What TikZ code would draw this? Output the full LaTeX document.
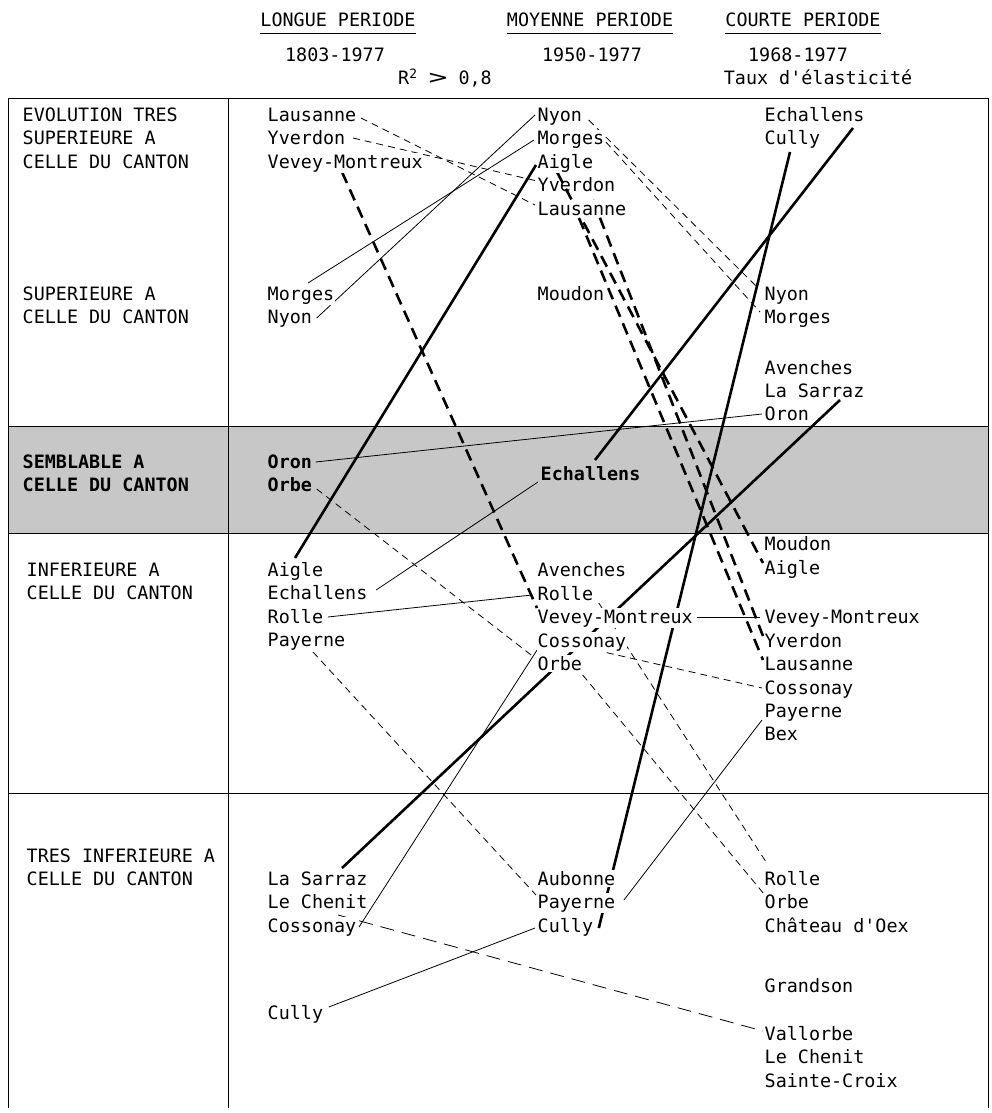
\documentclass[tikz,border=0pt]{standalone}
\usepackage{fontspec}
\usepackage{graphicx}
\setmainfont{DejaVu Sans Mono}
\setmonofont{DejaVu Sans Mono}
\usetikzlibrary{calc}
\pgfdeclarelayer{back}
\pgfdeclarelayer{lines}
\pgfsetlayers{back,lines,main}
\begin{document}
\begin{tikzpicture}[x=1pt,y=-1pt,
  t/.style={font=\ttfamily\fontsize{18.4}{22}\selectfont, inner xsep=0.5pt, inner ysep=1.5pt, fill=white, anchor=base west},
  tg/.style={t, fill=none, font=\ttfamily\fontsize{18.4}{22}\selectfont\bfseries},
  hd/.style={font=\ttfamily\fontsize{18.4}{22}\selectfont, inner sep=0pt, anchor=base},
  thin/.style={line width=0.8pt},
  thick/.style={line width=2.6pt},
  thindash/.style={line width=0.8pt, dash pattern=on 7pt off 5pt},
  thickdash/.style={line width=2.6pt, dash pattern=on 12pt off 7pt},
  longdash/.style={line width=0.8pt, dash pattern=on 14pt off 8pt},
  frame/.style={line width=0.9pt}]
\useasboundingbox (0,0) rectangle (992,1113);
% background band and frame
\begin{pgfonlayer}{back}
\fill[black!22] (8,426) rectangle (988,533);
\draw[frame] (8,1108) -- (8,98) -- (988,98) -- (988,1108);
\draw[frame] (228,98) -- (228,1108);
\draw[frame] (8,426) -- (988,426);
\draw[frame] (8,533) -- (988,533);
\draw[frame] (8,793) -- (988,793);
\end{pgfonlayer}
% headers
\node[hd] (hd1) at (338,27) {LONGUE PERIODE};
\node[hd] (hd2) at (590,27) {MOYENNE PERIODE};
\node[hd] (hd3) at (803,27) {COURTE PERIODE};
\draw[thin] ($(hd1.base west)+(0,6)$) -- ($(hd1.base east)+(0,6)$);
\draw[thin] ($(hd2.base west)+(0,6)$) -- ($(hd2.base east)+(0,6)$);
\draw[thin] ($(hd3.base west)+(0,6)$) -- ($(hd3.base east)+(0,6)$);
\node[hd] (yr1) at (335,62) {1803-1977};
\node[hd] (yr2) at (592,62) {1950-1977};
\node[hd] (yr3) at (798,62) {1968-1977};
\node[hd, anchor=base west] (rr) at (398,85) {R\textsuperscript{2} \scalebox{1.7}[1.1]{>} 0,8};
\node[hd] (taux) at (818,85) {Taux d'élasticité};
% left column labels
\node[t] (l1a) at (22,122) {EVOLUTION TRES};
\node[t] (l1b) at (22,145) {SUPERIEURE A};
\node[t] (l1c) at (22,168) {CELLE DU CANTON};
\node[t] (l2a) at (22,300) {SUPERIEURE A};
\node[t] (l2b) at (22,323) {CELLE DU CANTON};
\node[tg] (l3a) at (22,468) {SEMBLABLE A};
\node[tg] (l3b) at (22,491) {CELLE DU CANTON};
\node[t] (l4a) at (26,576) {INFERIEURE A};
\node[t] (l4b) at (26,599) {CELLE DU CANTON};
\node[t] (l5a) at (26,862) {TRES INFERIEURE A};
\node[t] (l5b) at (26,885) {CELLE DU CANTON};
% column 1
\node[t] (lau1) at (267,122) {Lausanne};
\node[t] (yve1) at (267,145) {Yverdon};
\node[t] (vev1) at (267,168) {Vevey-Montreux};
\node[t] (mor1) at (267,300) {Morges};
\node[t] (nyo1) at (267,323) {Nyon};
\node[tg] (oro1) at (267,468) {Oron};
\node[tg] (orb1) at (267,491) {Orbe};
\node[t] (aig1) at (267,576) {Aigle};
\node[t] (ech1) at (267,599) {Echallens};
\node[t] (rol1) at (267,623) {Rolle};
\node[t] (pay1) at (267,646) {Payerne};
\node[t] (sar1) at (267,885) {La Sarraz};
\node[t] (che1) at (267,908) {Le Chenit};
\node[t] (cos1) at (267,932) {Cossonay};
\node[t] (cul1) at (267,1019) {Cully};
% column 2
\node[t] (nyo2) at (537,122) {Nyon};
\node[t] (mor2) at (537,145) {Morges};
\node[t] (aig2) at (537,168) {Aigle};
\node[t, fill=none] (yve2) at (537,191) {Yverdon};
\node[t] (lau2) at (537,215) {Lausanne};
\node[t] (mou2) at (537,300) {Moudon};
\node[tg] (ech2) at (540,480) {Echallens};
\node[t] (ave2) at (537,576) {Avenches};
\node[t] (rol2) at (537,600) {Rolle};
\node[t] (vev2) at (537,623) {Vevey-Montreux};
\node[t] (cos2) at (537,647) {Cossonay};
\node[t] (orb2) at (537,670) {Orbe};
\node[t] (aub2) at (537,885) {Aubonne};
\node[t] (pay2) at (537,908) {Payerne};
\node[t] (cul2) at (537,932) {Cully};
% column 3
\node[t] (ech3) at (764,122) {Echallens};
\node[t] (cul3) at (764,145) {Cully};
\node[t] (nyo3) at (764,300) {Nyon};
\node[t] (mor3) at (764,323) {Morges};
\node[t] (ave3) at (764,374) {Avenches};
\node[t] (sar3) at (764,397) {La Sarraz};
\node[t] (oro3) at (764,420) {Oron};
\node[t] (mou3) at (764,550) {Moudon};
\node[t] (aig3) at (764,574) {Aigle};
\node[t] (vev3) at (764,623) {Vevey-Montreux};
\node[t] (yve3) at (764,647) {Yverdon};
\node[t] (lau3) at (764,670) {Lausanne};
\node[t] (cos3) at (764,694) {Cossonay};
\node[t] (pay3) at (764,717) {Payerne};
\node[t] (bex3) at (764,740) {Bex};
\node[t] (rol3) at (764,885) {Rolle};
\node[t] (orb3) at (764,908) {Orbe};
\node[t] (cha3) at (764,932) {Château d'Oex};
\node[t] (gra3) at (764,992) {Grandson};
\node[t] (val3) at (764,1040) {Vallorbe};
\node[t] (chn3) at (764,1063) {Le Chenit};
\node[t] (stc3) at (764,1087) {Sainte-Croix};
% connectors
\begin{pgfonlayer}{lines}
\draw[thindash] ($(lau1.base east)+(4,-4)$) -- ($(lau2.base west)+(-2,-10)$);
\draw[thindash] ($(yve1.base east)+(7,-7)$) -- ($(yve2.base west)+(0,-10)$);
\draw[thickdash] ($(vev1.base west)+(75,4)$) -- ($(vev2.base west)+(0,-15)$);
\draw[thin] ($(mor1.base west)+(41,-17)$) -- ($(mor2.base west)+(-3,-5)$);
\draw[thin] ($(nyo1.base east)+(4,-5)$) -- ($(nyo2.base west)+(-2,-7)$);
\draw[thin] ($(oro1.base east)+(3,-6)$) -- ($(oro3.base west)+(-2,-6)$);
\draw[thindash] ($(orb1.base east)+(4,-2)$) -- ($(orb2.base west)+(-2,-12)$);
\draw[thick] ($(aig1.base west)+(28,-18)$) -- ($(aig2.base west)+(-1,-3)$);
\draw[thin] ($(ech1.base east)+(8,-9)$) -- ($(ech2.base west)+(-2,2)$);
\draw[thin] ($(rol1.base east)+(4,-6)$) -- ($(rol2.base west)+(-5,-5)$);
\draw[thindash] ($(pay1.base west)+(46,6)$) -- ($(pay2.base west)+(-1,-13)$);
\draw[thick] ($(sar1.base west)+(75,-17)$) -- ($(sar3.base west)+(76,3)$);
\draw[longdash] ($(che1.base west)+(71,7)$) -- ($(val3.base west)+(-1,-9)$);
\draw[thin] ($(cos1.base east)+(2,-5)$) -- ($(cos2.base west)+(2,0)$);
\draw[thin] ($(cul1.base east)+(5,-12)$) -- ($(cul2.base west)+(-2,-4)$);
\draw[thindash] ($(nyo2.base east)+(6,-2)$) -- ($(nyo3.base west)+(-6,-12)$);
\draw[thindash] ($(mor2.base east)+(1,-3)$) -- ($(mor3.base west)+(-4,-11)$);
\draw[thickdash] ($(aig2.base west)+(20,4)$) -- ($(aig3.base west)+(-1,-11)$);
\draw[thickdash] ($(yve2.base west)+(56,9)$) -- ($(yve3.base west)+(-1,-11)$);
\draw[thickdash] ($(lau2.base west)+(42,3)$) -- ($(lau3.base west)+(-1,-10)$);
\draw[thick] ($(ech2.base west)+(55,-20)$) -- ($(ech3.base west)+(89,6)$);
\draw[thick] ($(cul2.base east)+(5,-4)$) -- ($(cul3.base west)+(26,7)$);
\draw[thindash] ($(rol2.base east)+(5,3)$) -- ($(rol3.base west)+(4,-20)$);
\draw[thin] ($(vev2.base east)+(4,-6)$) -- ($(vev3.base west)+(-4,-6)$);
\draw[thindash] ($(cos2.base west)+(58,3)$) -- ($(cos3.base west)+(-2,-6)$);
\draw[thindash] ($(orb2.base east)+(0,5)$) -- ($(orb3.base west)+(0,-14)$);
\draw[thin] ($(pay2.base east)+(8,-8)$) -- ($(pay3.base west)+(-2,3)$);
\end{pgfonlayer}
\end{tikzpicture}
\end{document}
